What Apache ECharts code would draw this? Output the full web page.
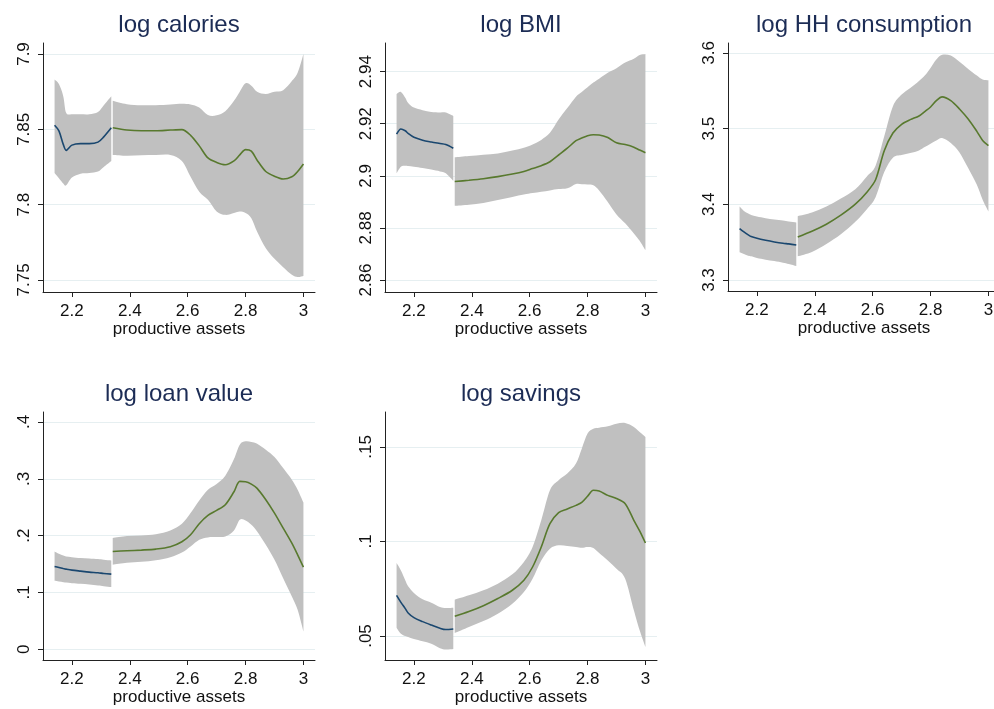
<!DOCTYPE html>
<html>
<head>
<meta charset="utf-8">
<script src="https://cdn.jsdelivr.net/npm/echarts@6/dist/echarts.min.js"></script>
<style>
html, body { margin: 0; padding: 0; background: #fff; }
#chart { width: 994px; height: 709px; }
</style>
</head>
<body>
<div id="chart"></div>
<script>
// x positions (productive assets) for the two segments
var xLeft = [2.14, 2.155, 2.17, 2.18, 2.20, 2.23, 2.26, 2.29, 2.31, 2.336];
var xRight = [2.341, 2.39, 2.44, 2.49, 2.54, 2.58, 2.61, 2.64, 2.67, 2.70, 2.73,
  2.76, 2.78, 2.80, 2.82, 2.84, 2.87, 2.90, 2.93, 2.96, 2.98, 3.0];
var xTicks = [2.2, 2.4, 2.6, 2.8, 3];

var panelTitles = ["log calories", "log BMI", "log HH consumption", "log loan value", "log savings"];

// log calories
var calFitL = [7.8527, 7.849, 7.840, 7.836, 7.8395, 7.8405, 7.8405, 7.8415, 7.845, 7.851];
var calHiL = [7.883, 7.880, 7.872, 7.861, 7.860, 7.860, 7.860, 7.8615, 7.866, 7.872];
var calLoL = [7.821, 7.8175, 7.814, 7.8128, 7.818, 7.8205, 7.821, 7.822, 7.825, 7.829];
var calFitR = [7.851, 7.8495, 7.849, 7.849, 7.8495, 7.8498, 7.846, 7.839, 7.831, 7.828, 7.8265,
  7.829, 7.833, 7.8365, 7.8355, 7.8295, 7.822, 7.8188, 7.817, 7.8185, 7.822, 7.827];
var calHiR = [7.869, 7.8667, 7.866, 7.866, 7.8665, 7.867, 7.8665, 7.8645, 7.8595, 7.8593, 7.862,
  7.869, 7.875, 7.8805, 7.879, 7.875, 7.8735, 7.875, 7.876, 7.882, 7.8875, 7.9];
var calLoR = [7.833, 7.8325, 7.8328, 7.833, 7.833, 7.829, 7.8185, 7.8085, 7.8032, 7.7955, 7.7932,
  7.7945, 7.7954, 7.7945, 7.791, 7.782, 7.771, 7.764, 7.7585, 7.7535, 7.752, 7.7527];
var calTicks = [7.75, 7.8, 7.85, 7.9];

// log BMI
var bmiFitL = [2.916, 2.918, 2.9173, 2.9163, 2.9148, 2.9137, 2.913, 2.9124, 2.912, 2.9106];
var bmiHiL = [2.9314, 2.9322, 2.930, 2.928, 2.9262, 2.9252, 2.9245, 2.9243, 2.9243, 2.923];
var bmiLoL = [2.901, 2.9035, 2.9039, 2.9038, 2.9035, 2.903, 2.9024, 2.9017, 2.901, 2.8981];
var bmiFitR = [2.8978, 2.8983, 2.8989, 2.8997, 2.9007, 2.9017, 2.9028, 2.9039, 2.9054, 2.908, 2.9106,
  2.9135, 2.9145, 2.9154, 2.9158, 2.9157, 2.9147, 2.9127, 2.912, 2.911, 2.9099, 2.9089];
var bmiHiR = [2.9071, 2.9076, 2.9081, 2.9086, 2.9097, 2.9108, 2.912, 2.9138, 2.9165, 2.9216, 2.926,
  2.9304, 2.9322, 2.934, 2.9358, 2.9373, 2.9396, 2.9413, 2.9435, 2.945, 2.9464, 2.9468];
var bmiLoR = [2.8885, 2.8889, 2.8896, 2.8907, 2.8919, 2.8928, 2.8934, 2.8939, 2.8944, 2.8949, 2.8952,
  2.8969, 2.8968, 2.8967, 2.8964, 2.8944, 2.890, 2.8852, 2.8818, 2.8779, 2.8751, 2.8715];
var bmiTicks = [2.86, 2.88, 2.9, 2.92, 2.94];

// log HH consumption
var hhFitL = [3.368, 3.3635, 3.3596, 3.3574, 3.3551, 3.3525, 3.3503, 3.3485, 3.3477, 3.3463];
var hhHiL = [3.3971, 3.3913, 3.3878, 3.386, 3.3838, 3.3816, 3.3799, 3.3785, 3.3772, 3.3759];
var hhLoL = [3.3366, 3.3344, 3.3322, 3.3313, 3.3291, 3.3269, 3.3251, 3.3229, 3.3212, 3.3185];
var hhFitR = [3.3569, 3.3644, 3.3737, 3.3856, 3.4001, 3.416, 3.4324, 3.4707, 3.4941, 3.5056, 3.5118,
  3.5166, 3.5224, 3.5285, 3.5369, 3.5418, 3.5369, 3.5259, 3.5126, 3.4963, 3.4844, 3.4774];
var hhHiR = [3.3843, 3.3891, 3.3971, 3.4077, 3.42, 3.4368, 3.4509, 3.4897, 3.5294, 3.5449, 3.5537,
  3.5629, 3.57, 3.5801, 3.5912, 3.5974, 3.5965, 3.5881, 3.5788, 3.57, 3.5647, 3.5638];
var hhLoR = [3.3313, 3.3371, 3.3476, 3.3604, 3.3768, 3.3935, 3.4094, 3.4425, 3.4615, 3.465, 3.4676,
  3.4712, 3.4756, 3.48, 3.4844, 3.4875, 3.4809, 3.4685, 3.4478, 3.4257, 3.4059, 3.3904];
var hhTicks = [3.3, 3.4, 3.5, 3.6];

// log loan value
var loanFitL = [0.1457, 0.1439, 0.1421, 0.141, 0.1392, 0.1374, 0.1357, 0.1345, 0.1333, 0.1322];
var loanHiL = [0.1721, 0.168, 0.165, 0.1633, 0.1621, 0.1604, 0.1598, 0.1586, 0.1574, 0.1562];
var loanLoL = [0.1204, 0.1192, 0.118, 0.1174, 0.1163, 0.1152, 0.114, 0.1122, 0.111, 0.1093];
var loanFitR = [0.1721, 0.1733, 0.1745, 0.1762, 0.1803, 0.1891, 0.2015, 0.2209, 0.2355, 0.2443, 0.2543,
  0.2772, 0.2954, 0.2949, 0.2907, 0.2831, 0.2631, 0.2396, 0.2132, 0.1867, 0.1662, 0.1445];
var loanHiR = [0.1956, 0.1991, 0.2003, 0.2026, 0.2091, 0.2209, 0.2397, 0.262, 0.2808, 0.2908, 0.3054,
  0.3348, 0.3601, 0.3659, 0.3648, 0.3618, 0.3512, 0.3383, 0.3189, 0.2984, 0.2808, 0.2584];
var loanLoR = [0.1486, 0.1521, 0.1539, 0.1568, 0.1621, 0.1703, 0.1809, 0.1927, 0.1968, 0.1974, 0.1985,
  0.2091, 0.2279, 0.2267, 0.2191, 0.2074, 0.1838, 0.1574, 0.1251, 0.0928, 0.0693, 0.0311];
var loanTicks = [0, 0.1, 0.2, 0.3, 0.4];

// log savings
var savFitL = [0.0715, 0.0678, 0.0645, 0.0622, 0.0597, 0.0576, 0.0558, 0.0541, 0.0534, 0.0537];
var savHiL = [0.0886, 0.0847, 0.0795, 0.0763, 0.0728, 0.0694, 0.0676, 0.0653, 0.0648, 0.065];
var savLoL = [0.0544, 0.0512, 0.05, 0.0495, 0.0484, 0.0472, 0.0459, 0.0435, 0.0428, 0.0431];
var savFitR = [0.0604, 0.0629, 0.066, 0.0698, 0.0742, 0.0795, 0.0865, 0.0971, 0.1094, 0.1153, 0.1172,
  0.1191, 0.1207, 0.1239, 0.1271, 0.1267, 0.1244, 0.1227, 0.12, 0.1112, 0.1056, 0.0992];
var savHiR = [0.0692, 0.0715, 0.0742, 0.0777, 0.0826, 0.0892, 0.0971, 0.1112, 0.1271, 0.1324, 0.1359,
  0.1412, 0.1491, 0.1571, 0.1597, 0.1602, 0.1609, 0.1623, 0.1627, 0.1606, 0.1579, 0.1553];
var savLoR = [0.0516, 0.0548, 0.0579, 0.0618, 0.0671, 0.0733, 0.0803, 0.09, 0.0962, 0.098, 0.0976,
  0.0971, 0.0967, 0.0971, 0.0966, 0.0939, 0.09, 0.0856, 0.0803, 0.0636, 0.053, 0.0442];
var savTicks = [0.05, 0.1, 0.15];

var panels = [
  { fitL: calFitL, hiL: calHiL, loL: calLoL, fitR: calFitR, hiR: calHiR, loR: calLoR, ticks: calTicks,
    min: 7.742, max: 7.9073, box: [43, 43, 272, 249] },
  { fitL: bmiFitL, hiL: bmiHiL, loL: bmiLoL, fitR: bmiFitR, hiR: bmiHiR, loR: bmiLoR, ticks: bmiTicks,
    min: 2.8554, max: 2.951, box: [385, 43, 272, 249] },
  { fitL: hhFitL, hiL: hhHiL, loL: hhLoL, fitR: hhFitR, hiR: hhHiR, loR: hhLoR, ticks: hhTicks,
    min: 3.2855, max: 3.613, box: [728, 43, 272, 248] },
  { fitL: loanFitL, hiL: loanHiL, loL: loanLoL, fitR: loanFitR, hiR: loanHiR, loR: loanLoR, ticks: loanTicks,
    min: -0.019, max: 0.4176, box: [43, 412, 272, 248] },
  { fitL: savFitL, hiL: savHiL, loL: savLoL, fitR: savFitR, hiR: savHiR, loR: savLoR, ticks: savTicks,
    min: 0.0373, max: 0.1685, box: [385, 412, 272, 248] }
];

var bandColor = "#c0c0c0";
var blue = "#1a476f";
var green = "#58792e";
var font = "'Liberation Sans', Arial, sans-serif";

function pairs(xs, ys) {
  return xs.map(function (x, i) { return [x, ys[i]]; });
}
function fmt(v) {
  return String(+v.toFixed(4)).replace(/^0\./, ".").replace(/^-0\./, "-.");
}

// catmull-rom through pixel points, as svg path commands (without the initial M)
function curveTo(pts) {
  var d = "";
  for (var k = 0; k < pts.length - 1; k++) {
    var p0 = pts[k - 1] || pts[k], p1 = pts[k], p2 = pts[k + 1], p3 = pts[k + 2] || pts[k + 1];
    var c1x = p1[0] + (p2[0] - p0[0]) / 6, c1y = p1[1] + (p2[1] - p0[1]) / 6;
    var c2x = p2[0] - (p3[0] - p1[0]) / 6, c2y = p2[1] - (p3[1] - p1[1]) / 6;
    d += " C" + c1x + " " + c1y + " " + c2x + " " + c2y + " " + p2[0] + " " + p2[1];
  }
  return d;
}

// confidence band drawn as one filled shape through the axis scales
function bandItem(params, api) {
  if (params.dataIndexInside !== 0) return null;
  var n = params.dataInsideLength, top = [], bot = [];
  for (var j = 0; j < n; j++) {
    var x = api.value(0, j);
    top.push(api.coord([x, api.value(2, j)]));
    bot.push(api.coord([x, api.value(1, j)]));
  }
  bot.reverse();
  var d = "M" + top[0][0] + " " + top[0][1] + curveTo(top) +
    " L" + bot[0][0] + " " + bot[0][1] + curveTo(bot) + " Z";
  return { type: "path", shape: { pathData: d }, style: { fill: bandColor } };
}

var grids = [], xAxes = [], yAxes = [], titles = [], series = [];

panels.forEach(function (p, i) {
  var b = p.box;
  grids.push({ left: b[0], top: b[1], width: b[2], height: b[3], outerBoundsMode: "none" });
  titles.push({
    text: panelTitles[i],
    left: b[0] + b[2] / 2,
    top: b[1] - 30,
    textAlign: "center",
    padding: 0,
    textStyle: { fontFamily: font, fontSize: 24, fontWeight: "normal", color: "#1c2c55" }
  });
  xAxes.push({
    gridIndex: i, type: "value", min: 2.1, max: 3.04,
    name: "productive assets", nameLocation: "middle", nameGap: 29,
    nameTextStyle: { fontFamily: font, fontSize: 17, color: "#111" },
    axisLine: { onZero: false, lineStyle: { color: "#222", width: 1 } },
    axisTick: { customValues: xTicks, length: 5, lineStyle: { color: "#222" } },
    axisLabel: { customValues: xTicks, margin: 11, fontFamily: font, fontSize: 17, color: "#111",
      formatter: fmt },
    splitLine: { show: false }
  });
  yAxes.push({
    gridIndex: i, type: "value", min: p.min, max: p.max,
    axisLine: { show: true, onZero: false, lineStyle: { color: "#222", width: 1 } },
    axisTick: { show: true, customValues: p.ticks, length: 5, lineStyle: { color: "#222" } },
    axisLabel: { customValues: p.ticks, rotate: 90, margin: 10, fontFamily: font, fontSize: 17,
      color: "#111", formatter: fmt },
    splitLine: { show: true, lineStyle: { color: "#e6eff1", width: 1 } }
  });

  [[xLeft, p.fitL, p.loL, p.hiL, blue], [xRight, p.fitR, p.loR, p.hiR, green]].forEach(function (s) {
    series.push({
      type: "custom", xAxisIndex: i, yAxisIndex: i, silent: true, z: 1,
      data: s[0].map(function (x, j) { return [x, s[2][j], s[3][j]]; }),
      encode: { x: 0, y: [1, 2] },
      renderItem: bandItem
    });
    series.push({
      type: "line", xAxisIndex: i, yAxisIndex: i, data: pairs(s[0], s[1]),
      symbol: "none", smooth: 0.3, lineStyle: { color: s[4], width: 1.6 }, silent: true, z: 3
    });
  });
});

var chart = echarts.init(document.getElementById("chart"));
chart.setOption({
  animation: false,
  backgroundColor: "#fff",
  title: titles,
  grid: grids,
  xAxis: xAxes,
  yAxis: yAxes,
  series: series
});
</script>
</body>
</html>
